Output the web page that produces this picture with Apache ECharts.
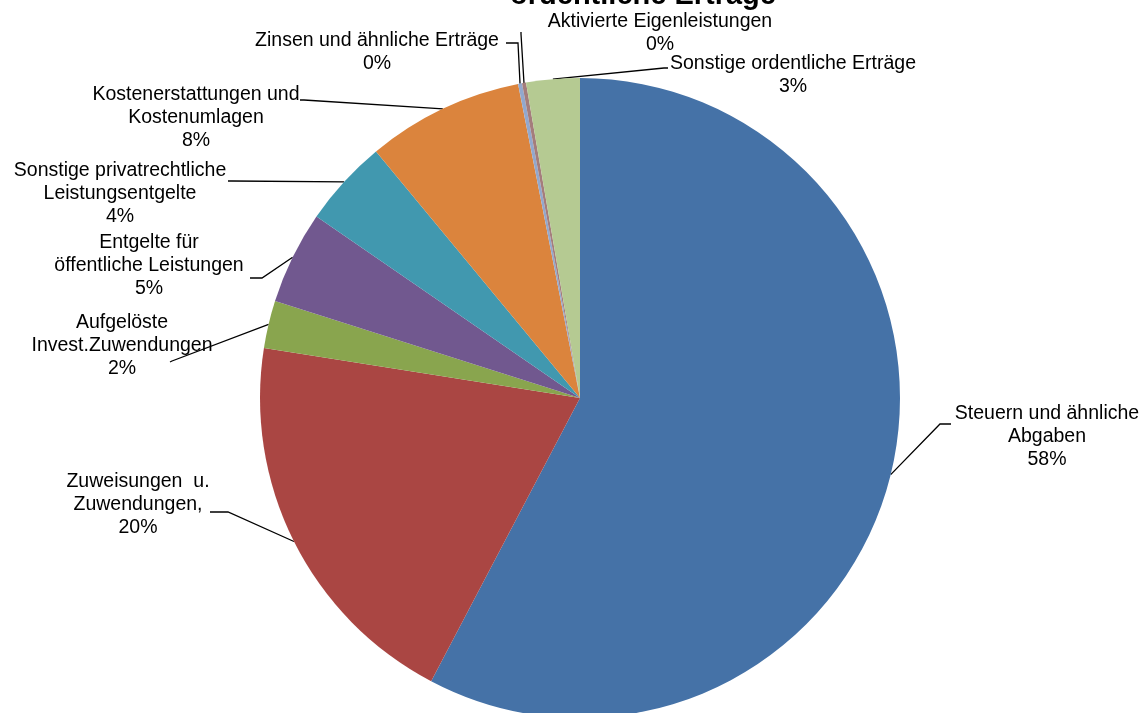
<!DOCTYPE html>
<html>
<head>
<meta charset="utf-8">
<script src="https://cdn.jsdelivr.net/npm/echarts@6/dist/echarts.min.js"></script>
<style>
html,body{margin:0;padding:0;background:#fff;}
#c{width:1144px;height:713px;}
</style>
</head>
<body>
<div id="c"></div>
<script>
// ---- data ----
const titleText = 'ordentliche Erträge';
const categories = [
  'Steuern und ähnliche\nAbgaben',
  'Zuweisungen  u.\nZuwendungen,',
  'Aufgelöste\nInvest.Zuwendungen',
  'Entgelte für\nöffentliche Leistungen',
  'Sonstige privatrechtliche\nLeistungsentgelte',
  'Kostenerstattungen und\nKostenumlagen',
  'Zinsen und ähnliche Erträge',
  'Aktivierte Eigenleistungen',
  'Sonstige ordentliche Erträge'
];
const values = [57.7, 19.8, 2.4, 4.7, 4.4, 7.9, 0.2, 0.2, 2.7];

// ---- styling / layout (not data) ----
const colors = ['#4572A7','#AA4643','#89A54E','#71588F','#4198AF','#DB843D','#92A8CD','#A47D7C','#B5CA92'];
const labelCenters = [[1047,437],[138,505],[122,346],[149,266],[120,194],[196,118],[377,52],[660,33],[793,75]];
const lineElbows = [
  [[940,424],[951,424]],
  [[228,512],[210,512]],
  [[172,361],[170,362]],
  [[262,278],[250,278]],
  [[232,181],[228,181]],
  [[304,100],[300,100]],
  [[518,43],[506,43]],
  [[521,34],[521,32]],
  [[664,68],[668,68]]
];

const chart = echarts.init(document.getElementById('c'), null, {renderer:'canvas'});
const total = values.reduce((a,b)=>a+b,0);
chart.setOption({
  animation:false,
  backgroundColor:'#ffffff',
  title:{
    text:titleText, left:638, textAlign:'center', top:-24,
    textStyle:{fontFamily:'Liberation Sans, Arial, sans-serif', fontWeight:'bold', fontSize:29, color:'#000'}
  },
  series:[{
    type:'pie',
    center:[580,398],
    radius:320,
    startAngle:90,
    clockwise:true,
    avoidLabelOverlap:false,
    silent:true,
    data: categories.map((n,i)=>({name:n, value:values[i], itemStyle:{color:colors[i]}})),
    itemStyle:{borderWidth:0},
    label:{
      show:true,
      position:'outside',
      formatter:p=> p.name + '\n' + Math.round(p.value/total*100) + '%',
      fontFamily:'Liberation Sans, Arial, sans-serif',
      fontSize:19.5,
      lineHeight:23,
      color:'#000',
      align:'center'
    },
    labelLine:{show:true, length:10, length2:10, lineStyle:{color:'#000', width:1.3}},
    labelLayout: function(params){
      const i = params.dataIndex;
      const p0 = params.labelLinePoints ? params.labelLinePoints[0] : lineElbows[i][0];
      return {
        x: labelCenters[i][0],
        y: labelCenters[i][1],
        align:'center',
        verticalAlign:'middle',
        hideOverlap:false,
        labelLinePoints:[p0, lineElbows[i][0], lineElbows[i][1]]
      };
    }
  }]
});
</script>
</body>
</html>
